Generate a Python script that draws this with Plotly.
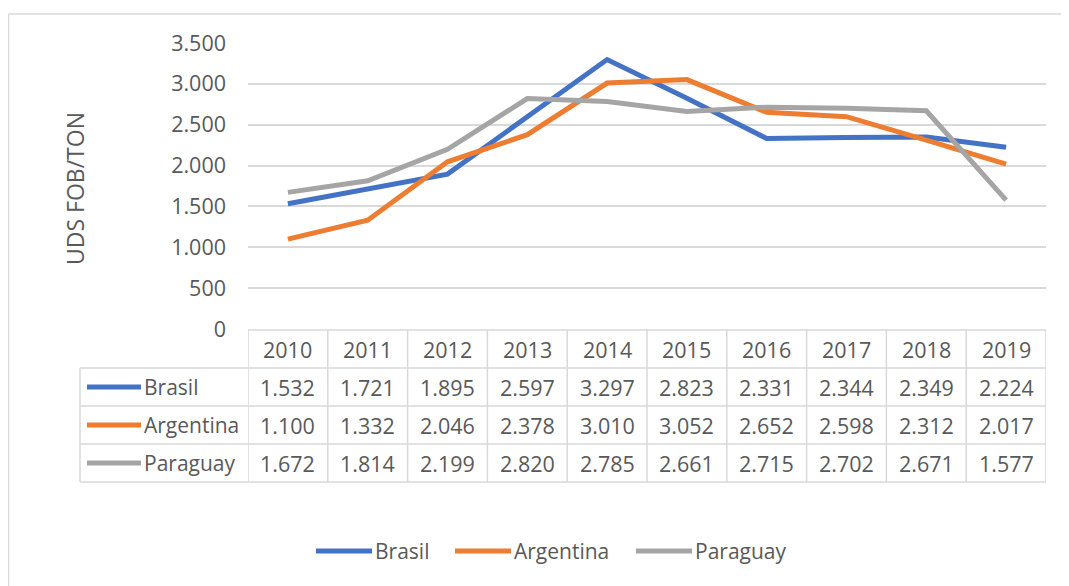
import plotly.graph_objects as go

years = ['2010', '2011', '2012', '2013', '2014', '2015', '2016', '2017', '2018', '2019']
brasil = [1532, 1721, 1895, 2597, 3297, 2823, 2331, 2344, 2349, 2224]
argentina = [1100, 1332, 2046, 2378, 3010, 3052, 2652, 2598, 2312, 2017]
paraguay = [1672, 1814, 2199, 2820, 2785, 2661, 2715, 2702, 2671, 1577]

series = [('Brasil', brasil, '#4472C4'),
          ('Argentina', argentina, '#ED7D31'),
          ('Paraguay', paraguay, '#A5A5A5')]

# page body has an 8px margin, so work in page pixels and shift by OFF
OFF = 8
W, H = 1069 - OFF, 586 - OFF
L, R, T, B = 248, 1046, 43, 329   # plot area in page pixels
FONT = 'Open Sans'
TXT = '#595959'
GRID = '#D9D9D9'


def px(x):
    return (x - L) / (R - L)


def py(y):
    return (B - y) / (B - T)


def fmt(v):
    return f'{v:,}'.replace(',', '.')


fig = go.Figure()
for name, vals, col in series:
    fig.add_trace(go.Scatter(x=list(range(len(years))), y=vals, name=name, mode='lines',
                             line=dict(color=col, width=5), showlegend=False))

shapes = []
annotations = []
numfont = dict(size=21.5, color=TXT, family=FONT)
txtfont = dict(size=21, color=TXT, family=FONT)

# data table below the plot
header_top, row_h = 330, 38
rows_y = [header_top + row_h * k for k in range(5)]
tline = dict(color=GRID, width=1.5)

shapes.append(dict(type='line', xref='paper', yref='paper', x0=0, x1=1,
                   y0=py(rows_y[0]), y1=py(rows_y[0]), line=tline))
for yy in rows_y[1:]:
    shapes.append(dict(type='line', xref='paper', yref='paper', x0=px(80), x1=1,
                       y0=py(yy), y1=py(yy), line=tline))
for i in range(len(years) + 1):
    shapes.append(dict(type='line', xref='x', yref='paper', x0=i - 0.5, x1=i - 0.5,
                       y0=py(rows_y[0]), y1=py(rows_y[-1]), line=tline))
shapes.append(dict(type='line', xref='paper', yref='paper', x0=px(80), x1=px(80),
                   y0=py(rows_y[1]), y1=py(rows_y[-1]), line=tline))

for i, yr in enumerate(years):
    annotations.append(dict(x=i, y=py((rows_y[0] + rows_y[1]) / 2), xref='x', yref='paper',
                            xanchor='center', yanchor='middle',
                            text=yr, showarrow=False, font=numfont))

for r, (name, vals, col) in enumerate(series):
    yc = py((rows_y[r + 1] + rows_y[r + 2]) / 2)
    shapes.append(dict(type='line', xref='paper', yref='paper', x0=px(87), x1=px(141),
                       y0=yc, y1=yc, line=dict(color=col, width=5)))
    annotations.append(dict(x=px(142), y=yc, xref='paper', yref='paper', xanchor='left',
                            yanchor='middle', text=name, showarrow=False, font=txtfont))
    for i, v in enumerate(vals):
        annotations.append(dict(x=i, y=yc, xref='x', yref='paper', xanchor='center',
                                yanchor='middle', text=fmt(v), showarrow=False, font=numfont))

# legend at the bottom
leg_y = py(551)
leg_x = [316, 455, 636]
for (name, vals, col), x0 in zip(series, leg_x):
    shapes.append(dict(type='line', xref='paper', yref='paper', x0=px(x0), x1=px(x0 + 56),
                       y0=leg_y, y1=leg_y, line=dict(color=col, width=5)))
    annotations.append(dict(x=px(x0 + 57), y=leg_y, xref='paper', yref='paper', xanchor='left',
                            yanchor='middle', text=name, showarrow=False, font=txtfont))

# chart border (top and left visible)
shapes.append(dict(type='line', xref='paper', yref='paper', x0=px(8.5), x1=px(1090),
                   y0=py(14), y1=py(14), line=dict(color=GRID, width=1.5)))
shapes.append(dict(type='line', xref='paper', yref='paper', x0=px(8.5), x1=px(8.5),
                   y0=py(14), y1=py(600), line=dict(color=GRID, width=1.5)))

annotations.append(dict(x=px(75), y=py(189), xref='paper', yref='paper', text='UDS FOB/TON',
                        xanchor='center', yanchor='middle',
                        textangle=-90, showarrow=False, font=dict(size=23, color=TXT, family=FONT)))

fig.update_layout(
    width=W, height=H,
    margin=dict(l=L - OFF, r=W - (R - OFF), t=T - OFF, b=H - (B - OFF), pad=0),
    paper_bgcolor='white', plot_bgcolor='white',
    separators=',.',
    font=dict(family=FONT, color=TXT, size=20),
    showlegend=False,
    shapes=shapes,
    annotations=annotations,
    xaxis=dict(range=[-0.5, 9.5], showticklabels=False, showgrid=False, zeroline=False,
               showline=False),
    yaxis=dict(range=[0, 3500], dtick=500, tickformat=',.0f', showgrid=True, gridcolor=GRID,
               gridwidth=1.5, zeroline=False, showline=False, ticklabelstandoff=21,
               tickfont=numfont),
)

fig.write_html('out.html')
